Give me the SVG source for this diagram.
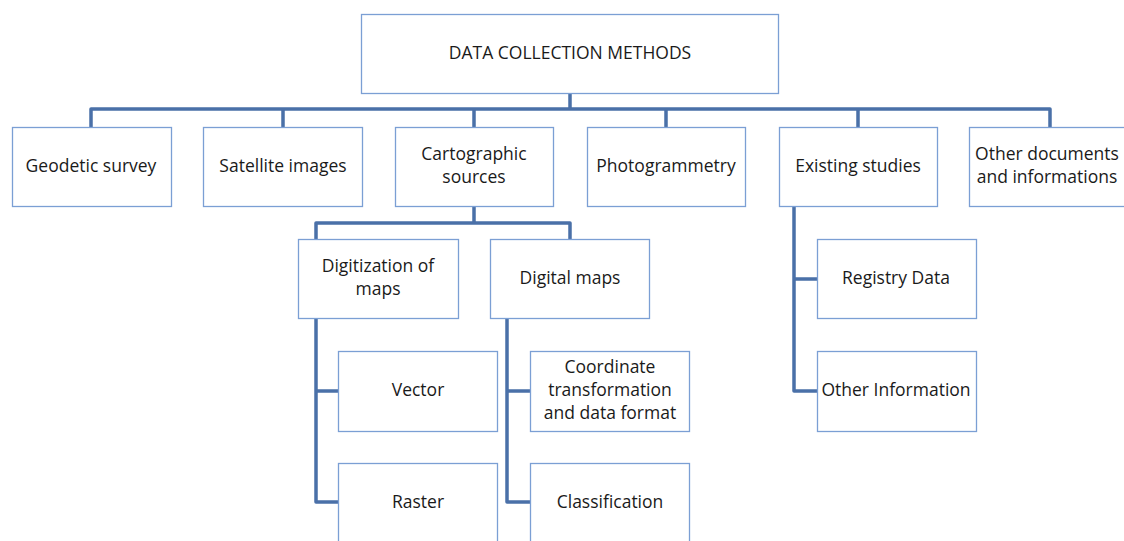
<svg xmlns="http://www.w3.org/2000/svg" width="1124" height="541" viewBox="0 0 1124 541">
<style>
.box{fill:#ffffff;stroke:#7b9fd4;stroke-width:1.3}
.lbl{font-family:"Open Sans","Liberation Sans",sans-serif;font-size:17.5px;fill:#1a1a1a;text-anchor:middle}
.con{fill:none;stroke:#4a70a8;stroke-width:3.5;stroke-linejoin:round}
</style>
<rect width="1124" height="541" fill="#ffffff"/>
<g id="connectors">
<path class="con" d="M570,93 V109 M91,127 V109 H1050 V127 M283,109 V127 M474,109 V127 M666,109 V127 M858,109 V127"/>
<path class="con" d="M474,206 V223 M316,239 V223 H570 V239"/>
<path class="con" d="M316,318 V502 H338 M316,391 H338"/>
<path class="con" d="M507,318 V502 H530 M507,391 H530"/>
<path class="con" d="M794,206 V391 H817 M794,279 H817"/>
</g>
<g id="n-root"><rect class="box" x="361.5" y="14.5" width="417" height="79"/><text class="lbl" x="570" y="59">DATA COLLECTION METHODS</text></g>
<g id="n-geodetic"><rect class="box" x="12.5" y="127.5" width="159" height="79"/><text class="lbl" x="91" y="172">Geodetic survey</text></g>
<g id="n-satellite"><rect class="box" x="203.5" y="127.5" width="159" height="79"/><text class="lbl" x="283" y="172">Satellite images</text></g>
<g id="n-carto"><rect class="box" x="395.5" y="127.5" width="158" height="79"/><text class="lbl" x="474" y="160">Cartographic</text><text class="lbl" x="474" y="183">sources</text></g>
<g id="n-photo"><rect class="box" x="587.5" y="127.5" width="158" height="79"/><text class="lbl" x="666" y="172">Photogrammetry</text></g>
<g id="n-existing"><rect class="box" x="779.5" y="127.5" width="158" height="79"/><text class="lbl" x="858" y="172">Existing studies</text></g>
<g id="n-otherdocs"><rect class="box" x="969.5" y="127.5" width="160" height="79"/><text class="lbl" x="1047" y="160">Other documents</text><text class="lbl" x="1047" y="183">and informations</text></g>
<g id="n-digitization"><rect class="box" x="298.5" y="239.5" width="160" height="79"/><text class="lbl" x="378" y="272">Digitization of</text><text class="lbl" x="378" y="295">maps</text></g>
<g id="n-digital"><rect class="box" x="490.5" y="239.5" width="159" height="79"/><text class="lbl" x="570" y="284">Digital maps</text></g>
<g id="n-vector"><rect class="box" x="338.5" y="351.5" width="159" height="80"/><text class="lbl" x="418" y="396">Vector</text></g>
<g id="n-raster"><rect class="box" x="338.5" y="463.5" width="159" height="80"/><text class="lbl" x="418" y="508">Raster</text></g>
<g id="n-coord"><rect class="box" x="530.5" y="351.5" width="159" height="80"/><text class="lbl" x="610" y="373">Coordinate</text><text class="lbl" x="610" y="396">transformation</text><text class="lbl" x="610" y="419">and data format</text></g>
<g id="n-class"><rect class="box" x="530.5" y="463.5" width="159" height="80"/><text class="lbl" x="610" y="508">Classification</text></g>
<g id="n-registry"><rect class="box" x="817.5" y="239.5" width="159" height="79"/><text class="lbl" x="896" y="284">Registry Data</text></g>
<g id="n-otherinfo"><rect class="box" x="817.5" y="351.5" width="159" height="80"/><text class="lbl" x="896" y="396">Other Information</text></g>
</svg>
